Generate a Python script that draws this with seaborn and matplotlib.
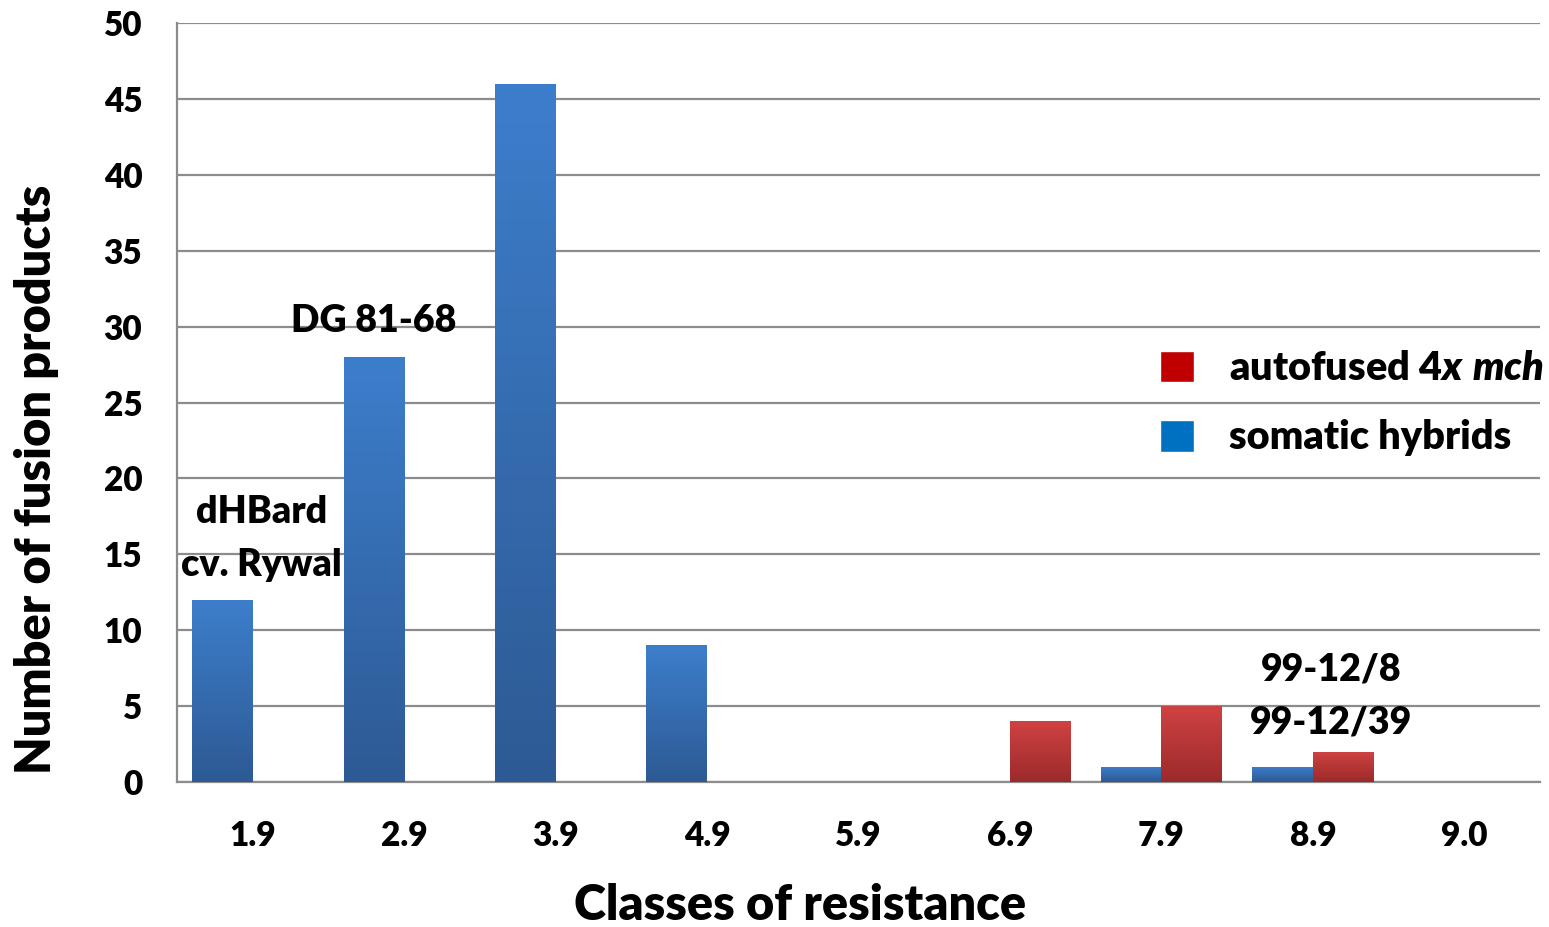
import numpy as np
import pandas as pd
import matplotlib
matplotlib.use("Agg")
import matplotlib.pyplot as plt
import seaborn as sns
from matplotlib.patches import Patch
from matplotlib.colors import LinearSegmentedColormap

classes = ["1.9", "2.9", "3.9", "4.9", "5.9", "6.9", "7.9", "8.9", "9.0"]
somatic_hybrids = [12, 28, 46, 9, 0, 0, 1, 1, 0]
autofused_4x_mch = [0, 0, 0, 0, 0, 4, 5, 2, 0]
series_names = ["somatic hybrids", "autofused 4x mch"]

df = pd.DataFrame({
    "class": classes * 2,
    "value": somatic_hybrids + autofused_4x_mch,
    "series": [series_names[0]] * len(classes) + [series_names[1]] * len(classes),
})

sns.set_theme(style="white")
plt.rcParams["font.family"] = ["Lato", "DejaVu Sans"]
plt.rcParams["font.weight"] = "bold"
plt.rcParams["mathtext.fontset"] = "custom"
plt.rcParams["mathtext.it"] = "Lato:italic:heavy"
plt.rcParams["mathtext.rm"] = "Lato:heavy"

fig = plt.figure(figsize=(15.49, 9.27), dpi=100)
ax = fig.add_axes([177/1549, 1-782/927, (1540-177)/1549, (782-23)/927])

blue_c = "#3572bd"
red_c = "#bc3232"
sns.barplot(data=df, x="class", y="value", hue="series", hue_order=series_names,
            palette=[blue_c, red_c], width=0.8, ax=ax, legend=False,
            saturation=1, linewidth=0, zorder=3)

# gradient fill on bars
grads = {
    blue_c: LinearSegmentedColormap.from_list("b", ["#2d5a94", "#3d7ecc"]),
    red_c: LinearSegmentedColormap.from_list("r", ["#9c2a2a", "#d04242"]),
}
grad = np.linspace(0, 1, 256).reshape(-1, 1)
for p in list(ax.patches):
    h = p.get_height()
    if h <= 0:
        continue
    fc = matplotlib.colors.to_hex(p.get_facecolor())
    cmap = grads.get(fc)
    if cmap is None:
        continue
    x0 = p.get_x(); w = p.get_width()
    im = ax.imshow(grad, cmap=cmap, origin="lower", aspect="auto",
                   extent=[x0, x0 + w, 0, h], zorder=4)
    im.set_clip_path(p)

ax.set_xlim(-0.5, len(classes) - 0.5)
ax.set_ylim(0, 50)
ax.set_yticks(range(0, 51, 5))
ax.yaxis.grid(True, color="#8c8c8c", linewidth=1.6, zorder=0)
ax.set_axisbelow(True)
for s in ["top", "right"]:
    ax.spines[s].set_visible(False)
for s in ["left", "bottom"]:
    ax.spines[s].set_color("#8c8c8c")
    ax.spines[s].set_linewidth(1.6)

ax.tick_params(axis="y", length=0, pad=25, labelsize=24)
ax.tick_params(axis="x", which="major", length=0, pad=27, labelsize=24)
ax.set_xticks(np.arange(-0.5, len(classes), 1.0), minor=True)
ax.tick_params(axis="x", which="minor", length=8, width=1.6, color="#8c8c8c", direction="out")
for lab in ax.get_xticklabels() + ax.get_yticklabels():
    lab.set_fontweight("heavy")
    lab.set_color("black")

ax.set_xlabel("Classes of resistance", fontsize=35, fontweight="heavy", color="black")
ax.xaxis.set_label_coords((800-177)/1363, (782-905)/759)
ax.xaxis.label.set_va("center")
ax.set_ylabel("Number of fusion products", fontsize=35, fontweight="heavy", color="black")
ax.yaxis.set_label_coords((37-177)/1363, (782-479)/759)
ax.yaxis.label.set_va("center")

# annotations
ann_kw = dict(fontsize=27, fontweight="heavy", ha="center", va="center", color="black", zorder=6)
ax.text(0.06, 17.8, "dHBard", **ann_kw)
ax.text(0.06, 14.3, "cv. Rywal", **ann_kw)
ax.text(0.80, 30.4, "DG 81-68", **ann_kw)
ax.text(7.12, 7.44, "99-12/8", **ann_kw)
ax.text(7.12, 3.95, "99-12/39", **ann_kw)

handles = [Patch(facecolor="#c00000"), Patch(facecolor="#0070c0")]
labels = [r"autofused 4$\mathit{x\ mch}$", "somatic hybrids"]
leg = ax.legend(handles, labels, loc="upper left", bbox_to_anchor=((1160-177)/1363, (782-350)/759),
                frameon=False, fontsize=28.5, handlelength=0.85, handleheight=0.85,
                handletextpad=0.9, labelspacing=0.82, borderaxespad=0, borderpad=0)
for t in leg.get_texts():
    t.set_fontweight("heavy")
    t.set_color("black")

fig.savefig("out.png", dpi=100, facecolor="white")
